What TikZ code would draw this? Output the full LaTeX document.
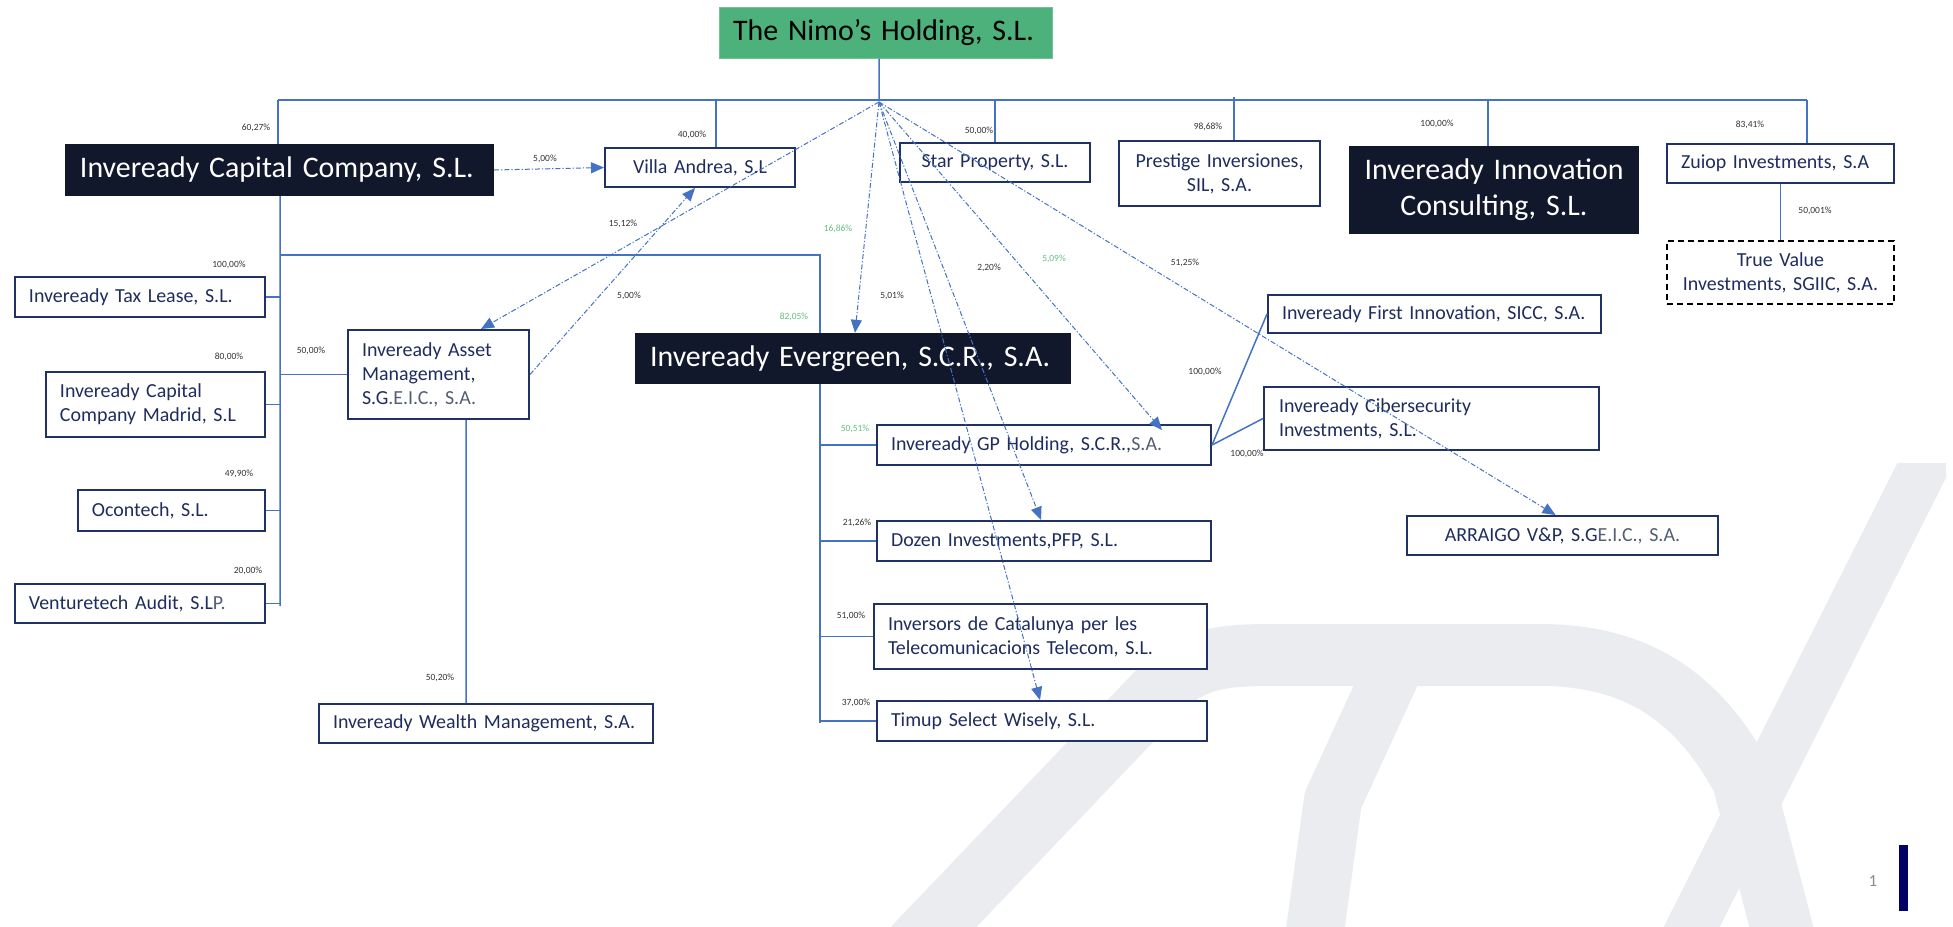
\documentclass[tikz,border=0pt]{standalone}
\usepackage{fontspec}
\setmainfont{Carlito}
\usetikzlibrary{arrows.meta}
\definecolor{navy}{RGB}{31,45,94}
\definecolor{boxc}{RGB}{32,50,100}
\definecolor{connc}{RGB}{68,114,196}
\definecolor{blk}{RGB}{18,24,44}
\definecolor{nimog}{RGB}{76,177,122}
\definecolor{grt}{RGB}{84,94,114}
\definecolor{pctg}{RGB}{100,190,130}
\definecolor{wmc}{RGB}{235,236,240}
\definecolor{barc}{RGB}{0,0,102}
\tikzset{
 box/.style={draw=boxc, line width=2bp, fill=white, text=navy, font=\fontsize{20}{24}\selectfont, inner sep=0pt, align=left},
 cbox/.style={box, align=center},
 bigbox/.style={fill=blk, text=white, font=\fontsize{30}{36}\selectfont, inner sep=0pt, align=left},
 conn/.style={draw=connc, line width=1.5bp},
 own/.style={draw=connc, line width=1bp, dash pattern=on 5bp off 2bp on 1.2bp off 2bp},
 ownarr/.style={own, -{Triangle[length=13bp,width=11bp]}},
 pct/.style={font=\fontsize{9.5}{11}\selectfont, text=black!80, inner sep=0pt},
 pctgreen/.style={pct, text=pctg},
 wm/.style={draw=wmc, line cap=butt, line join=round},
}
\begin{document}
\begin{tikzpicture}[x=1bp,y=-1bp]
\useasboundingbox (0,0) rectangle (1953,927);
\fill[white] (0,0) rectangle (1953,927);
% watermark
\begin{scope}
\clip (0,0) rectangle (1946,927);
\draw[wm, line width=62bp] (902,960) -- (1160,690) .. controls (1195,655) and (1230,655) .. (1280,655) -- (1540,655) .. controls (1640,655) and (1700,700) .. (1743,780) -- (1790,960);
\draw[wm, line width=58bp] (1395,665) -- (1333,800) -- (1311,960);
\end{scope}
\begin{scope}
\clip (0,463) rectangle (1946,927);
\draw[wm, line width=50bp] (1675,960) -- (1937,440);
\end{scope}

% boxes
\node[bigbox, fill=nimog, text=black, draw=nimog!80!white, line width=1bp, minimum width=333bp, minimum height=51bp, text width=305bp] (nimo) at (885.5,32.5) {The Nimo’s Holding, S.L.};
\node[bigbox, minimum width=429bp, minimum height=52bp, text width=399bp] (icc) at (279.5,170) {Inveready Capital Company, S.L.};
\node[cbox, minimum width=190bp, minimum height=39bp, text width=170bp] (villa) at (700,167.5) {Villa Andrea, S.L};
\node[cbox, minimum width=190bp, minimum height=39bp, text width=170bp] (star) at (995,162.5) {Star Property, S.L.};
\node[cbox, minimum width=201bp, minimum height=65bp, text width=181bp] (prest) at (1219.5,173.5) {Prestige Inversiones,\\SIL, S.A.};
\node[bigbox, align=center, minimum width=290bp, minimum height=88bp, text width=270bp] (innov) at (1494,190) {Inveready Innovation\\Consulting, S.L.};
\node[box, minimum width=227bp, minimum height=39bp, text width=199bp] (zuiop) at (1780.5,163.5) {Zuiop Investments, S.A};
\node[cbox, draw=black, dash pattern=on 6bp off 4bp, minimum width=227bp, minimum height=63bp, text width=207bp] (truev) at (1780.5,272.5) {True Value\\Investments, SGIIC, S.A.};
\node[box, minimum width=250bp, minimum height=40bp, text width=222bp] (tax) at (140,297) {Inveready Tax Lease, S.L.};
\node[box, minimum width=219bp, minimum height=65bp, text width=191bp] (madrid) at (155.5,404.5) {Inveready Capital\\Company Madrid, S.L};
\node[box, minimum width=187bp, minimum height=41bp, text width=159bp] (ocon) at (171.5,510.5) {Ocontech, S.L.};
\node[box, minimum width=250bp, minimum height=39bp, text width=222bp] (vent) at (140,603.5) {Venturetech Audit, S.L{\color{grt}P.}};
\node[box, minimum width=181bp, minimum height=89bp, text width=153bp] (asset) at (438.5,374.5) {Inveready Asset\\Management,\\S.G{\color{grt}.E.I.C., S.A.}};
\node[box, minimum width=334bp, minimum height=39bp, text width=306bp] (wealth) at (486,723.5) {Inveready Wealth Management, S.A.};
\node[bigbox, minimum width=436bp, minimum height=51bp, text width=406bp] (everg) at (853,358.5) {Inveready Evergreen, S.C.R., S.A.};
\node[box, minimum width=334bp, minimum height=40bp, text width=306bp] (gp) at (1044,445) {Inveready GP Holding, S.C.R.,{\color{grt}S.A.}};
\node[box, minimum width=334bp, minimum height=40bp, text width=306bp] (dozen) at (1044,541) {Dozen Investments,PFP, S.L.};
\node[box, minimum width=333bp, minimum height=65bp, text width=305bp] (invers) at (1040.5,636.5) {Inversors de Catalunya per les\\Telecomunicacions Telecom, S.L.};
\node[box, minimum width=330bp, minimum height=40bp, text width=302bp] (timup) at (1042,721) {Timup Select Wisely, S.L.};
\node[box, minimum width=333bp, minimum height=38bp, text width=305bp] (first) at (1434.5,314) {Inveready First Innovation, SICC, S.A.};
\node[box, minimum width=335bp, minimum height=63bp, text width=305bp] (ciber) at (1431.5,418.5) {Inveready Cibersecurity\\Investments, S.L.};
\node[cbox, minimum width=311bp, minimum height=39bp, text width=291bp] (arr) at (1562.5,535.5) {ARRAIGO V\&P, S.G{\color{grt}E.I.C., S.A.}};

% coordinates
\coordinate (topL) at (278,100);
\coordinate (topR) at (1807,100);
\coordinate (hub) at (879,100);
\coordinate (hubd) at (879,102);
\coordinate (dv) at (716,100);
\coordinate (ds) at (995,100);
\coordinate (dp) at (1234,97);
\coordinate (di) at (1488,100);
\coordinate (iccEnd) at (280,606);
\coordinate (evJ) at (820,255);
\coordinate (evEnd) at (820,723);

% solid connectors
\draw[conn] (topL) -- (topR);
\draw[conn] ([xshift=-6.5bp]nimo.south) -- (hub);
\draw[conn] (topL) -- (topL |- icc.north);
\draw[conn] (dv) -- (dv |- villa.north);
\draw[conn] (ds) -- (ds |- star.north);
\draw[conn] (dp) -- (dp |- prest.north);
\draw[conn] (di) -- (di |- innov.north);
\draw[conn] (topR) -- (topR |- zuiop.north);
\draw[conn] (zuiop.south) -- (truev.north);
\draw[conn] ([xshift=0.5bp]icc.south) -- (iccEnd);
\draw[conn] (tax.east) -- (tax.east -| iccEnd);
\draw[conn] (madrid.east) -- (madrid.east -| iccEnd);
\draw[conn] (ocon.east) -- (ocon.east -| iccEnd);
\draw[conn] (vent.east) -- (vent.east -| iccEnd);
\draw[conn] (asset.west) -- (asset.west -| iccEnd);
\draw[conn] (evJ -| iccEnd) -- (evJ) -- (evJ |- everg.north);
\draw[conn] (evJ |- everg.south) -- (evEnd);
\draw[conn] (gp.west) -- (gp.west -| evEnd);
\draw[conn] (dozen.west) -- (dozen.west -| evEnd);
\draw[conn] (invers.west) -- (invers.west -| evEnd);
\draw[conn] (timup.west) -- (timup.west -| evEnd);
\draw[conn] ([xshift=27.5bp]asset.south) -- ([xshift=-20bp]wealth.north);
\draw[conn] (gp.east) -- (first.west);
\draw[conn] (gp.east) -- (ciber.west);

% dash-dot ownership arrows
\draw[ownarr] (icc.east) -- (villa.west);
\draw[ownarr] (hubd) -- ([xshift=134bp]asset.north west);
\draw[ownarr] (asset.east) -- ([xshift=91bp]villa.south west);
\draw[ownarr] (hubd) -- ([xshift=2bp]everg.north);
\draw[ownarr] (hubd) -- ([xshift=286bp,yshift=-6bp]gp.north west);
\draw[ownarr] (hubd) -- ([xshift=-3bp]dozen.north);
\draw[ownarr] (hubd) -- ([xshift=-2bp]timup.north);
\draw[ownarr] (hubd) -- ([xshift=-7bp]arr.north);

% percentage labels
\node[pct] (p1) at (256,128) {60,27\%};
\node[pct] (p2) at (692,135) {40,00\%};
\node[pct] (p3) at (979,131) {50,00\%};
\node[pct] (p4) at (1208,127) {98,68\%};
\node[pct] (p5) at (1437,124) {100,00\%};
\node[pct] (p6) at (1750,125) {83,41\%};
\node[pct] (p7) at (1815,211) {50,001\%};
\node[pct] (p8) at (545,159) {5,00\%};
\node[pct] (p9) at (623,224) {15,12\%};
\node[pct] (p10) at (629,296) {5,00\%};
\node[pctgreen] (p11) at (838,229) {16,86\%};
\node[pct] (p12) at (989,268) {2,20\%};
\node[pctgreen] (p13) at (1054,259) {5,09\%};
\node[pct] (p14) at (1185,263) {51,25\%};
\node[pct] (p15) at (892,296) {5,01\%};
\node[pctgreen] (p16) at (794,317) {82,05\%};
\node[pct] (p17) at (229,265) {100,00\%};
\node[pct] (p18) at (311,351) {50,00\%};
\node[pct] (p19) at (229,357) {80,00\%};
\node[pct] (p20) at (239,474) {49,90\%};
\node[pct] (p21) at (248,571) {20,00\%};
\node[pct] (p22) at (440,678) {50,20\%};
\node[pctgreen] (p23) at (855,429) {50,51\%};
\node[pct] (p24) at (857,523) {21,26\%};
\node[pct] (p25) at (851,616) {51,00\%};
\node[pct] (p26) at (856,703) {37,00\%};
\node[pct] (p27) at (1205,372) {100,00\%};
\node[pct] (p28) at (1247,454) {100,00\%};

% page number and bar
\node[font=\fontsize{17}{20}\selectfont, text=black!45, inner sep=0pt] (pg) at (1873,881) {1};
\fill[barc] (1899,845) rectangle (1908,911);
\end{tikzpicture}
\end{document}
